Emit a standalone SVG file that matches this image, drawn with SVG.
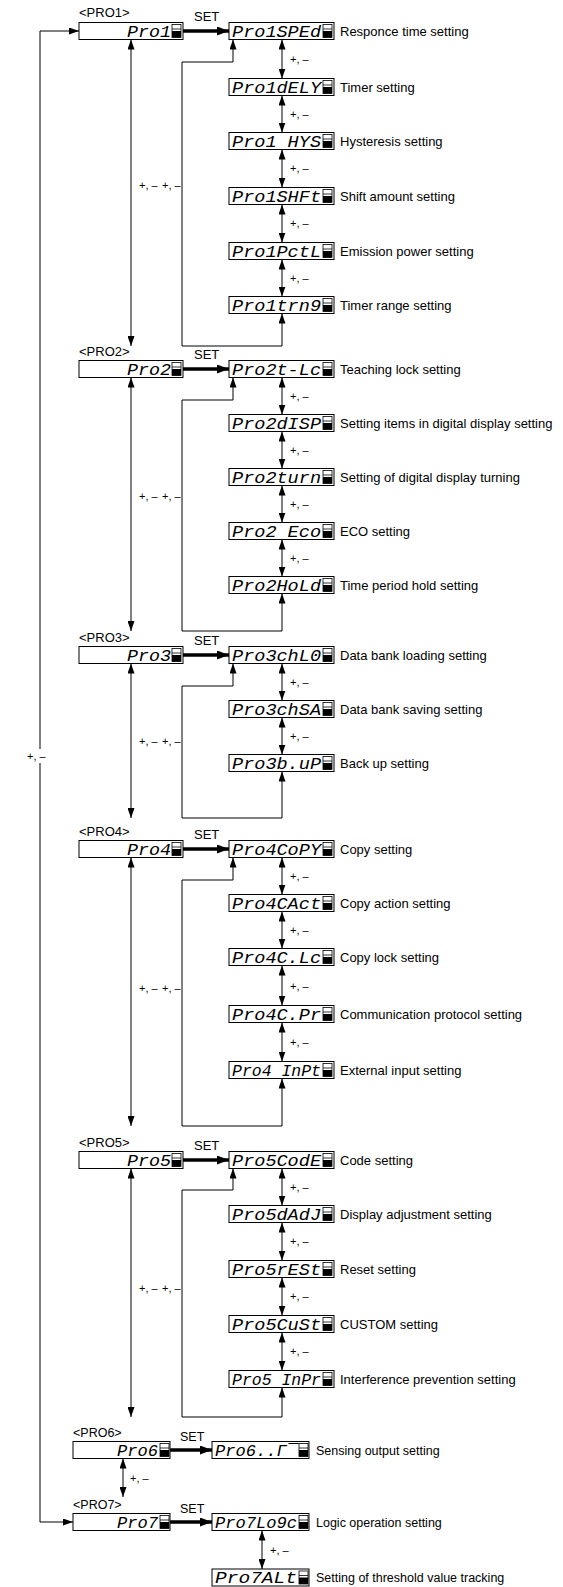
<svg xmlns="http://www.w3.org/2000/svg" xmlns:xlink="http://www.w3.org/1999/xlink" width="563" height="1587" viewBox="0 0 563 1587">
<style>
.box{fill:#fff;stroke:#000;stroke-width:1}
.seg{font-family:"Liberation Mono","DejaVu Sans Mono",monospace;font-style:italic;font-size:16px;fill:#000}
.lbl{font-family:"Liberation Sans",Arial,sans-serif;font-size:13px;fill:#000}
.lbs{font-family:"Liberation Sans",Arial,sans-serif;font-size:12.5px;fill:#000}
.pm{font-family:"Liberation Sans",Arial,sans-serif;font-size:11px;fill:#000}
.ln{fill:none;stroke:#000;stroke-width:1}
.dbl{marker-start:url(#ah);marker-end:url(#ah)}
.set{fill:none;stroke:#000;stroke-width:3.5;marker-end:url(#ahb)}
</style>
<defs>
<marker id="ah" markerUnits="userSpaceOnUse" markerWidth="10" markerHeight="7" refX="10" refY="3.5" orient="auto-start-reverse" viewBox="0 0 10 7"><path d="M0,0 L10,3.5 L0,7 z" fill="#000"/></marker>
<marker id="ahb" markerUnits="userSpaceOnUse" markerWidth="12" markerHeight="9" refX="12" refY="4.5" orient="auto" viewBox="0 0 12 9"><path d="M0,0 L12,4.5 L0,9 z" fill="#000"/></marker>
<g id="ind"><rect x="0" y="0" width="9" height="13" fill="#fff" stroke="#000" stroke-width="0.8"/><line x1="0" y1="4.5" x2="9" y2="4.5" stroke="#000" stroke-width="0.8"/><rect x="0" y="6.5" width="9" height="6.5" fill="#000"/></g>
</defs>

<g id="connectors">
<path class="ln dbl" d="M79,31 H40 V1522 H73"/>
<rect x="25" y="749" width="26" height="14" fill="#fff"/>
<text class="pm" x="27" y="760">+, –</text>
<path class="set" d="M183,31 H229"/>
<path class="set" d="M183,369 H229"/>
<path class="set" d="M183,655 H229"/>
<path class="set" d="M183,849 H229"/>
<path class="set" d="M183,1160 H229"/>
<path class="set" d="M170,1450 H212"/>
<path class="set" d="M170,1522 H212"/>
<path class="ln dbl" d="M131,39.5 V346"/>
<path class="ln dbl" d="M131,377.5 V631"/>
<path class="ln dbl" d="M131,663.5 V818"/>
<path class="ln dbl" d="M131,857.5 V1126"/>
<path class="ln dbl" d="M131,1168.5 V1417"/>
<path class="ln dbl" d="M123,1458.5 V1497"/>
<path class="ln dbl" d="M233,39.5 V62 H182 V346 H282 V313.5"/>
<path class="ln dbl" d="M233,377.5 V400 H182 V631 H282 V593.5"/>
<path class="ln dbl" d="M233,663.5 V686 H182 V818 H282 V771.5"/>
<path class="ln dbl" d="M233,857.5 V880 H182 V1126 H282 V1078.5"/>
<path class="ln dbl" d="M233,1168.5 V1190 H182 V1417 H282 V1387.5"/>
<path class="ln dbl" d="M282,39.5 V78.5"/>
<path class="ln dbl" d="M282,95.5 V132.5"/>
<path class="ln dbl" d="M282,149.5 V187.5"/>
<path class="ln dbl" d="M282,204.5 V242.5"/>
<path class="ln dbl" d="M282,259.5 V296.5"/>
<path class="ln dbl" d="M282,377.5 V414.5"/>
<path class="ln dbl" d="M282,431.5 V468.5"/>
<path class="ln dbl" d="M282,485.5 V522.5"/>
<path class="ln dbl" d="M282,539.5 V576.5"/>
<path class="ln dbl" d="M282,663.5 V700.5"/>
<path class="ln dbl" d="M282,717.5 V754.5"/>
<path class="ln dbl" d="M282,857.5 V894.5"/>
<path class="ln dbl" d="M282,911.5 V948.5"/>
<path class="ln dbl" d="M282,965.5 V1005.5"/>
<path class="ln dbl" d="M282,1022.5 V1061.5"/>
<path class="ln dbl" d="M282,1168.5 V1205.5"/>
<path class="ln dbl" d="M282,1222.5 V1260.5"/>
<path class="ln dbl" d="M282,1277.5 V1315.5"/>
<path class="ln dbl" d="M282,1332.5 V1370.5"/>
<path class="ln dbl" d="M262,1530.5 V1569"/>
<text class="lbl" x="194" y="21">SET</text>
<text class="lbl" x="194" y="359">SET</text>
<text class="lbl" x="194" y="645">SET</text>
<text class="lbl" x="194" y="839">SET</text>
<text class="lbl" x="194" y="1150">SET</text>
<text class="lbs" x="180" y="1441">SET</text>
<text class="lbs" x="180" y="1513">SET</text>
<text class="pm" x="139" y="189">+, –</text>
<text class="pm" x="162" y="189">+, –</text>
<text class="pm" x="139" y="500">+, –</text>
<text class="pm" x="162" y="500">+, –</text>
<text class="pm" x="139" y="745">+, –</text>
<text class="pm" x="162" y="745">+, –</text>
<text class="pm" x="139" y="992">+, –</text>
<text class="pm" x="162" y="992">+, –</text>
<text class="pm" x="139" y="1292">+, –</text>
<text class="pm" x="162" y="1292">+, –</text>
<text class="pm" x="130" y="1482">+, –</text>
<text class="pm" x="270" y="1554">+, –</text>
<text class="pm" x="290" y="63">+, –</text>
<text class="pm" x="290" y="118">+, –</text>
<text class="pm" x="290" y="172">+, –</text>
<text class="pm" x="290" y="227">+, –</text>
<text class="pm" x="290" y="282">+, –</text>
<text class="pm" x="290" y="400">+, –</text>
<text class="pm" x="290" y="454">+, –</text>
<text class="pm" x="290" y="508">+, –</text>
<text class="pm" x="290" y="562">+, –</text>
<text class="pm" x="290" y="686">+, –</text>
<text class="pm" x="290" y="740">+, –</text>
<text class="pm" x="290" y="880">+, –</text>
<text class="pm" x="290" y="934">+, –</text>
<text class="pm" x="290" y="990">+, –</text>
<text class="pm" x="290" y="1046">+, –</text>
<text class="pm" x="290" y="1191">+, –</text>
<text class="pm" x="290" y="1245">+, –</text>
<text class="pm" x="290" y="1300">+, –</text>
<text class="pm" x="290" y="1355">+, –</text>
</g>

<g id="pro1"><text class="lbl" x="79" y="17">&lt;PRO1&gt;</text><rect class="box" x="79" y="22.5" width="104" height="17"/><text class="seg" x="127" y="36.5" textLength="44" lengthAdjust="spacingAndGlyphs">Pro1</text><use xlink:href="#ind" x="172" y="24.5"/></g>
<g id="pro1spd"><rect class="box" x="229" y="22.5" width="105" height="17"/><text class="seg" x="232" y="36.5" textLength="89" lengthAdjust="spacingAndGlyphs">Pro1SPEd</text><use xlink:href="#ind" x="323" y="24.5"/><text class="lbl" x="340" y="35.5">Responce time setting</text></g>
<g id="pro1dly"><rect class="box" x="229" y="78.5" width="105" height="17"/><text class="seg" x="232" y="92.5" textLength="89" lengthAdjust="spacingAndGlyphs">Pro1dELY</text><use xlink:href="#ind" x="323" y="80.5"/><text class="lbl" x="340" y="91.5">Timer setting</text></g>
<g id="pro1hys"><rect class="box" x="229" y="132.5" width="105" height="17"/><text class="seg" x="232" y="146.5" textLength="89" lengthAdjust="spacingAndGlyphs">Pro1 HYS</text><use xlink:href="#ind" x="323" y="134.5"/><text class="lbl" x="340" y="145.5">Hysteresis setting</text></g>
<g id="pro1shft"><rect class="box" x="229" y="187.5" width="105" height="17"/><text class="seg" x="232" y="201.5" textLength="89" lengthAdjust="spacingAndGlyphs">Pro1SHFt</text><use xlink:href="#ind" x="323" y="189.5"/><text class="lbl" x="340" y="200.5">Shift amount setting</text></g>
<g id="pro1pctl"><rect class="box" x="229" y="242.5" width="105" height="17"/><text class="seg" x="232" y="256.5" textLength="89" lengthAdjust="spacingAndGlyphs">Pro1PctL</text><use xlink:href="#ind" x="323" y="244.5"/><text class="lbl" x="340" y="255.5">Emission power setting</text></g>
<g id="pro1trng"><rect class="box" x="229" y="296.5" width="105" height="17"/><text class="seg" x="232" y="310.5" textLength="89" lengthAdjust="spacingAndGlyphs">Pro1trn9</text><use xlink:href="#ind" x="323" y="298.5"/><text class="lbl" x="340" y="309.5">Timer range setting</text></g>

<g id="pro2"><text class="lbl" x="79" y="356">&lt;PRO2&gt;</text><rect class="box" x="79" y="360.5" width="104" height="17"/><text class="seg" x="127" y="374.5" textLength="44" lengthAdjust="spacingAndGlyphs">Pro2</text><use xlink:href="#ind" x="172" y="362.5"/></g>
<g id="pro2tlc"><rect class="box" x="229" y="360.5" width="105" height="17"/><text class="seg" x="232" y="374.5" textLength="89" lengthAdjust="spacingAndGlyphs">Pro2t-Lc</text><use xlink:href="#ind" x="323" y="362.5"/><text class="lbl" x="340" y="373.5">Teaching lock setting</text></g>
<g id="pro2disp"><rect class="box" x="229" y="414.5" width="105" height="17"/><text class="seg" x="232" y="428.5" textLength="89" lengthAdjust="spacingAndGlyphs">Pro2dISP</text><use xlink:href="#ind" x="323" y="416.5"/><text class="lbl" x="340" y="427.5">Setting items in digital display setting</text></g>
<g id="pro2turn"><rect class="box" x="229" y="468.5" width="105" height="17"/><text class="seg" x="232" y="482.5" textLength="89" lengthAdjust="spacingAndGlyphs">Pro2turn</text><use xlink:href="#ind" x="323" y="470.5"/><text class="lbl" x="340" y="481.5">Setting of digital display turning</text></g>
<g id="pro2eco"><rect class="box" x="229" y="522.5" width="105" height="17"/><text class="seg" x="232" y="536.5" textLength="89" lengthAdjust="spacingAndGlyphs">Pro2 Eco</text><use xlink:href="#ind" x="323" y="524.5"/><text class="lbl" x="340" y="535.5">ECO setting</text></g>
<g id="pro2hold"><rect class="box" x="229" y="576.5" width="105" height="17"/><text class="seg" x="232" y="590.5" textLength="89" lengthAdjust="spacingAndGlyphs">Pro2HoLd</text><use xlink:href="#ind" x="323" y="578.5"/><text class="lbl" x="340" y="589.5">Time period hold setting</text></g>

<g id="pro3"><text class="lbl" x="79" y="642">&lt;PRO3&gt;</text><rect class="box" x="79" y="646.5" width="104" height="17"/><text class="seg" x="127" y="660.5" textLength="44" lengthAdjust="spacingAndGlyphs">Pro3</text><use xlink:href="#ind" x="172" y="648.5"/></g>
<g id="pro3chld"><rect class="box" x="229" y="646.5" width="105" height="17"/><text class="seg" x="232" y="660.5" textLength="89" lengthAdjust="spacingAndGlyphs">Pro3chL0</text><use xlink:href="#ind" x="323" y="648.5"/><text class="lbl" x="340" y="659.5">Data bank loading setting</text></g>
<g id="pro3chsa"><rect class="box" x="229" y="700.5" width="105" height="17"/><text class="seg" x="232" y="714.5" textLength="89" lengthAdjust="spacingAndGlyphs">Pro3chSA</text><use xlink:href="#ind" x="323" y="702.5"/><text class="lbl" x="340" y="713.5">Data bank saving setting</text></g>
<g id="pro3bup"><rect class="box" x="229" y="754.5" width="105" height="17"/><text class="seg" x="232" y="768.5" textLength="89" lengthAdjust="spacingAndGlyphs">Pro3b.uP</text><use xlink:href="#ind" x="323" y="756.5"/><text class="lbl" x="340" y="767.5">Back up setting</text></g>

<g id="pro4"><text class="lbl" x="79" y="836">&lt;PRO4&gt;</text><rect class="box" x="79" y="840.5" width="104" height="17"/><text class="seg" x="127" y="854.5" textLength="44" lengthAdjust="spacingAndGlyphs">Pro4</text><use xlink:href="#ind" x="172" y="842.5"/></g>
<g id="pro4copy"><rect class="box" x="229" y="840.5" width="105" height="17"/><text class="seg" x="232" y="854.5" textLength="89" lengthAdjust="spacingAndGlyphs">Pro4CoPY</text><use xlink:href="#ind" x="323" y="842.5"/><text class="lbl" x="340" y="853.5">Copy setting</text></g>
<g id="pro4cact"><rect class="box" x="229" y="894.5" width="105" height="17"/><text class="seg" x="232" y="908.5" textLength="89" lengthAdjust="spacingAndGlyphs">Pro4CAct</text><use xlink:href="#ind" x="323" y="896.5"/><text class="lbl" x="340" y="907.5">Copy action setting</text></g>
<g id="pro4clc"><rect class="box" x="229" y="948.5" width="105" height="17"/><text class="seg" x="232" y="962.5" textLength="89" lengthAdjust="spacingAndGlyphs">Pro4C.Lc</text><use xlink:href="#ind" x="323" y="950.5"/><text class="lbl" x="340" y="961.5">Copy lock setting</text></g>
<g id="pro4cpr"><rect class="box" x="229" y="1005.5" width="105" height="17"/><text class="seg" x="232" y="1019.5" textLength="89" lengthAdjust="spacingAndGlyphs">Pro4C.Pr</text><use xlink:href="#ind" x="323" y="1007.5"/><text class="lbl" x="340" y="1018.5">Communication protocol setting</text></g>
<g id="pro4inpt"><rect class="box" x="229" y="1061.5" width="105" height="17"/><text class="seg" x="232" y="1075.5" textLength="89" lengthAdjust="spacingAndGlyphs">Pro4 InPt</text><use xlink:href="#ind" x="323" y="1063.5"/><text class="lbl" x="340" y="1074.5">External input setting</text></g>

<g id="pro5"><text class="lbl" x="79" y="1147">&lt;PRO5&gt;</text><rect class="box" x="79" y="1151.5" width="104" height="17"/><text class="seg" x="127" y="1165.5" textLength="44" lengthAdjust="spacingAndGlyphs">Pro5</text><use xlink:href="#ind" x="172" y="1153.5"/></g>
<g id="pro5code"><rect class="box" x="229" y="1151.5" width="105" height="17"/><text class="seg" x="232" y="1165.5" textLength="89" lengthAdjust="spacingAndGlyphs">Pro5CodE</text><use xlink:href="#ind" x="323" y="1153.5"/><text class="lbl" x="340" y="1164.5">Code setting</text></g>
<g id="pro5dadj"><rect class="box" x="229" y="1205.5" width="105" height="17"/><text class="seg" x="232" y="1219.5" textLength="89" lengthAdjust="spacingAndGlyphs">Pro5dAdJ</text><use xlink:href="#ind" x="323" y="1207.5"/><text class="lbl" x="340" y="1218.5">Display adjustment setting</text></g>
<g id="pro5rest"><rect class="box" x="229" y="1260.5" width="105" height="17"/><text class="seg" x="232" y="1274.5" textLength="89" lengthAdjust="spacingAndGlyphs">Pro5rESt</text><use xlink:href="#ind" x="323" y="1262.5"/><text class="lbl" x="340" y="1273.5">Reset setting</text></g>
<g id="pro5cust"><rect class="box" x="229" y="1315.5" width="105" height="17"/><text class="seg" x="232" y="1329.5" textLength="89" lengthAdjust="spacingAndGlyphs">Pro5CuSt</text><use xlink:href="#ind" x="323" y="1317.5"/><text class="lbl" x="340" y="1328.5">CUSTOM setting</text></g>
<g id="pro5inpr"><rect class="box" x="229" y="1370.5" width="105" height="17"/><text class="seg" x="232" y="1384.5" textLength="89" lengthAdjust="spacingAndGlyphs">Pro5 InPr</text><use xlink:href="#ind" x="323" y="1372.5"/><text class="lbl" x="340" y="1383.5">Interference prevention setting</text></g>

<g id="pro6"><text class="lbs" x="73" y="1437">&lt;PRO6&gt;</text><rect class="box" x="73" y="1441.5" width="97" height="17"/><text class="seg" x="117" y="1455.5" textLength="41" lengthAdjust="spacingAndGlyphs">Pro6</text><use xlink:href="#ind" x="160" y="1443.5"/></g>
<g id="pro6out"><rect class="box" x="212" y="1441.5" width="97" height="17"/><text class="seg" x="215" y="1455.5" textLength="82" lengthAdjust="spacingAndGlyphs">Pro6..Γ¯</text><use xlink:href="#ind" x="299" y="1443.5"/><text class="lbs" x="316" y="1454.5">Sensing output setting</text></g>

<g id="pro7"><text class="lbs" x="73" y="1509">&lt;PRO7&gt;</text><rect class="box" x="73" y="1513.5" width="97" height="17"/><text class="seg" x="117" y="1527.5" textLength="41" lengthAdjust="spacingAndGlyphs">Pro7</text><use xlink:href="#ind" x="160" y="1515.5"/></g>
<g id="pro7logc"><rect class="box" x="212" y="1513.5" width="97" height="17"/><text class="seg" x="215" y="1527.5" textLength="82" lengthAdjust="spacingAndGlyphs">Pro7Lo9c</text><use xlink:href="#ind" x="299" y="1515.5"/><text class="lbs" x="316" y="1526.5">Logic operation setting</text></g>
<g id="pro7alt"><rect class="box" x="212" y="1569" width="97" height="17"/><text class="seg" x="215" y="1583" textLength="82" lengthAdjust="spacingAndGlyphs">Pro7ALt </text><use xlink:href="#ind" x="299" y="1571"/><text class="lbs" x="316" y="1582">Setting of threshold value tracking</text></g>
</svg>
